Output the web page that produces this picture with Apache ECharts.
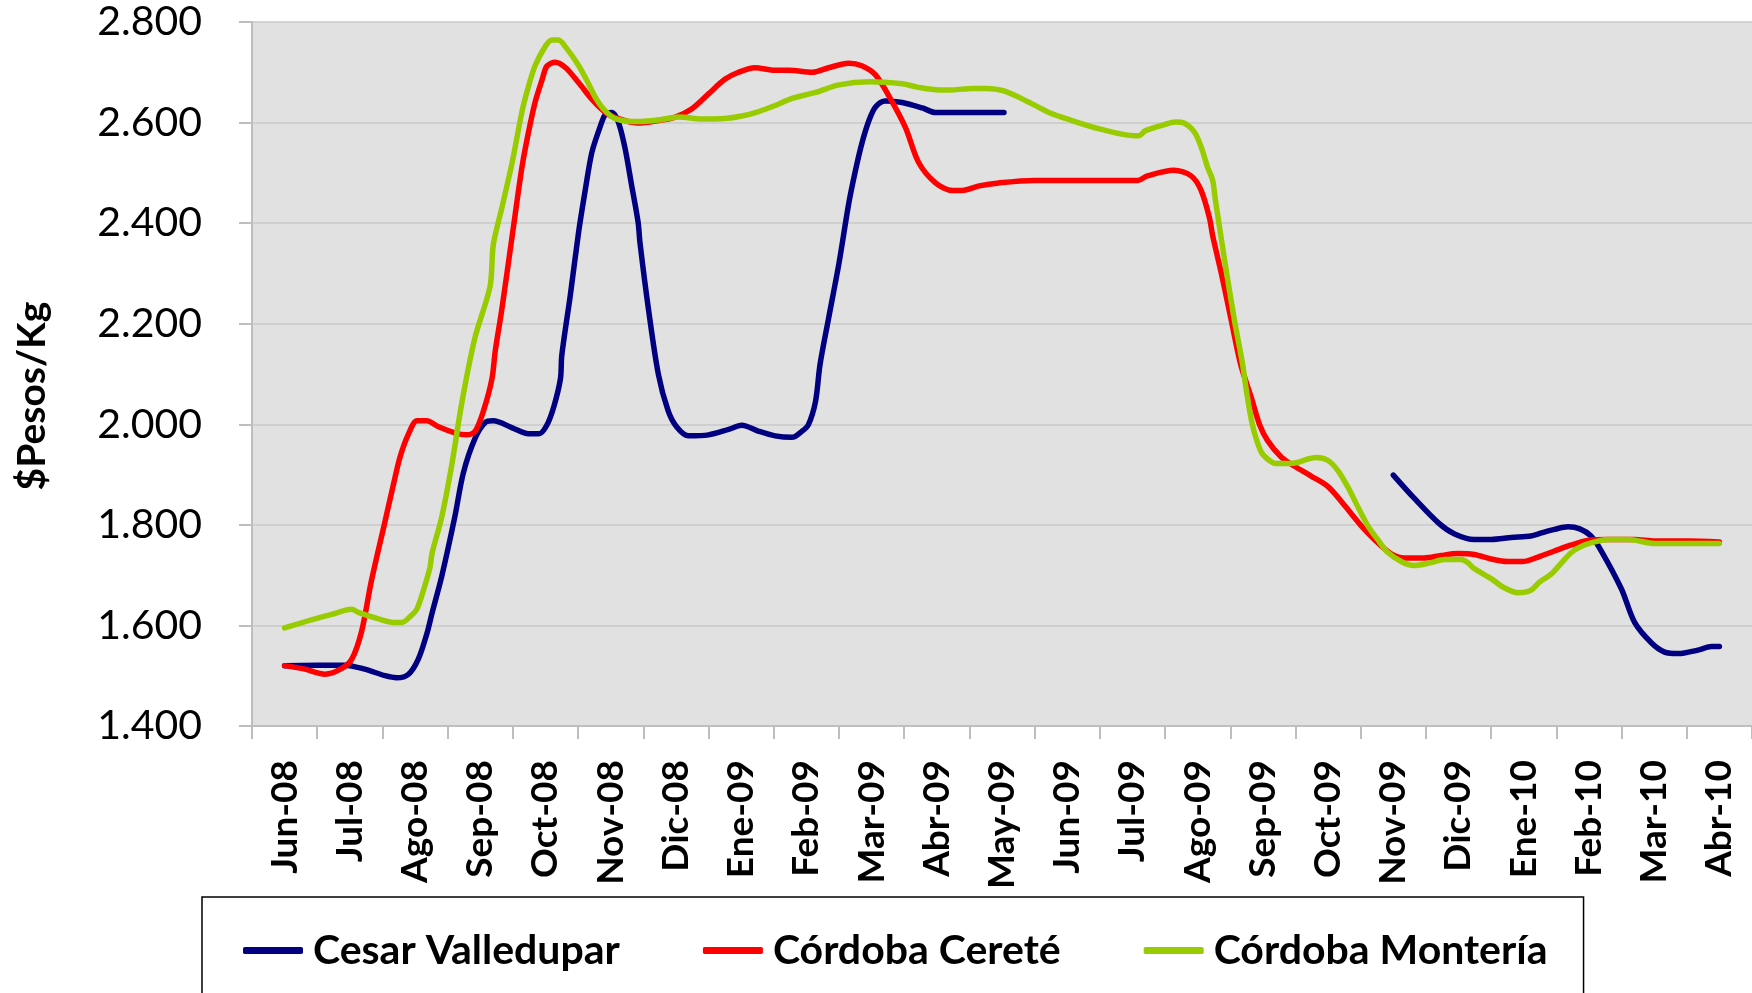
<!DOCTYPE html>
<html>
<head>
<meta charset="utf-8">
<script src="https://cdn.jsdelivr.net/npm/echarts@6/dist/echarts.min.js"></script>
<style>
html,body{margin:0;padding:0;background:#fff;}
#chart{width:1752px;height:993px;}
</style>
</head>
<body>
<div id="chart"></div>
<script>
const months = ['Jun-08','Jul-08','Ago-08','Sep-08','Oct-08','Nov-08','Dic-08','Ene-09','Feb-09','Mar-09','Abr-09','May-09','Jun-09','Jul-09','Ago-09','Sep-09','Oct-09','Nov-09','Dic-09','Ene-10','Feb-10','Mar-10','Abr-10'];
const yTicks = [1400, 1600, 1800, 2000, 2200, 2400, 2600, 2800];
const seriesNames = ['Cesar Valledupar', 'Córdoba Cereté', 'Córdoba Montería'];

// [month position (0 = Jun-08), $Pesos/Kg]
const cesarPart1 = [[0,1520],[0.92,1521],[1.23,1513],[1.54,1500],[1.72,1496],[1.9,1503],[2.05,1533],[2.18,1583],[2.26,1624],[2.41,1698],[2.61,1816],[2.74,1903],[2.92,1972],[3.08,2004],[3.2,2007],[3.49,1993],[3.74,1981],[3.9,1981],[4.02,1998],[4.13,2036],[4.23,2091],[4.25,2137],[4.38,2256],[4.51,2384],[4.61,2466],[4.71,2540],[4.82,2585],[4.92,2617],[5.02,2620],[5.12,2600],[5.22,2549],[5.32,2476],[5.42,2402],[5.45,2360],[5.58,2228],[5.73,2100],[5.88,2027],[6.01,1995],[6.19,1977],[6.5,1979],[6.81,1990],[7.01,1998],[7.27,1986],[7.52,1977],[7.78,1974],[7.93,1986],[8.03,1999],[8.14,2045],[8.21,2119],[8.34,2210],[8.5,2320],[8.65,2439],[8.75,2503],[8.85,2558],[8.96,2604],[9.06,2631],[9.21,2643],[9.47,2640],[9.78,2629],[9.98,2620],[10.5,2620],[11.03,2620]];
const cesarPart2 = [[17,1899],[17.32,1853],[17.7,1803],[17.94,1782],[18.24,1771],[18.5,1771],[18.81,1775],[19.11,1778],[19.27,1784],[19.47,1791],[19.68,1796],[19.86,1792],[20.03,1778],[20.19,1748],[20.5,1672],[20.7,1606],[20.96,1565],[21.16,1547],[21.37,1544],[21.67,1551],[21.88,1558],[22,1558]];
const cerete = [[0,1520],[0.31,1513],[0.62,1503],[0.87,1514],[1.03,1533],[1.18,1588],[1.33,1688],[1.54,1807],[1.67,1881],[1.77,1935],[1.9,1981],[2.03,2007],[2.18,2007],[2.36,1995],[2.61,1983],[2.79,1979],[2.92,1986],[3.05,2027],[3.18,2091],[3.23,2146],[3.33,2228],[3.49,2375],[3.64,2512],[3.74,2581],[3.84,2640],[3.95,2686],[4.02,2712],[4.15,2720],[4.31,2709],[4.51,2679],[4.72,2645],[4.92,2620],[5.07,2610],[5.42,2599],[5.73,2604],[5.99,2611],[6.24,2627],[6.5,2657],[6.75,2686],[6.96,2700],[7.21,2709],[7.52,2704],[7.73,2704],[8.09,2700],[8.34,2709],[8.65,2718],[8.85,2713],[9.06,2695],[9.26,2654],[9.52,2590],[9.72,2521],[9.98,2480],[10.24,2465],[10.39,2465],[10.65,2474],[10.95,2480],[11.49,2485],[12.16,2485],[13.08,2485],[13.23,2494],[13.64,2505],[13.9,2494],[14.05,2466],[14.18,2411],[14.23,2375],[14.36,2302],[14.51,2210],[14.66,2119],[14.82,2054],[14.95,1999],[15.07,1968],[15.28,1935],[15.48,1917],[15.74,1897],[16,1876],[16.25,1839],[16.51,1798],[16.71,1771],[16.96,1743],[17.17,1734],[17.47,1734],[17.73,1739],[17.99,1743],[18.24,1741],[18.5,1732],[18.75,1727],[18.98,1727],[19.22,1736],[19.47,1748],[19.73,1760],[19.98,1769],[20.29,1771],[20.7,1771],[21.01,1768],[21.52,1768],[22,1766]];
const monteria = [[0,1595],[0.41,1611],[0.72,1622],[1.03,1632],[1.13,1626],[1.44,1613],[1.67,1606],[1.8,1606],[1.92,1617],[2.03,1633],[2.15,1679],[2.23,1716],[2.26,1743],[2.41,1816],[2.56,1917],[2.72,2045],[2.92,2173],[3.15,2274],[3.2,2357],[3.33,2430],[3.49,2521],[3.64,2622],[3.72,2663],[3.84,2713],[4,2752],[4.1,2764],[4.2,2764],[4.31,2750],[4.51,2713],[4.66,2677],[4.77,2649],[4.89,2627],[5.07,2608],[5.42,2602],[5.73,2605],[6.04,2611],[6.4,2607],[6.75,2608],[7.01,2613],[7.27,2622],[7.52,2634],[7.78,2648],[8.14,2660],[8.5,2675],[8.96,2681],[9.47,2677],[9.72,2670],[10.03,2665],[10.24,2665],[10.54,2668],[10.75,2668],[11.03,2663],[11.39,2642],[11.72,2620],[12.05,2605],[12.51,2587],[13.03,2574],[13.1,2574],[13.2,2584],[13.49,2596],[13.66,2601],[13.79,2599],[13.95,2581],[14.05,2553],[14.15,2512],[14.23,2485],[14.27,2448],[14.41,2329],[14.56,2210],[14.69,2119],[14.74,2073],[14.84,1999],[14.97,1946],[15.07,1931],[15.2,1922],[15.38,1922],[15.53,1924],[15.69,1931],[15.82,1934],[16,1928],[16.15,1908],[16.3,1876],[16.46,1835],[16.61,1798],[16.76,1771],[16.91,1746],[17.12,1727],[17.32,1719],[17.58,1725],[17.78,1731],[18.04,1731],[18.14,1725],[18.24,1713],[18.5,1693],[18.7,1675],[18.91,1665],[19.11,1670],[19.24,1686],[19.42,1702],[19.57,1723],[19.73,1745],[19.88,1757],[20.09,1766],[20.29,1771],[20.6,1771],[21.01,1763],[21.52,1763],[22,1763]];

const colors = ['#000080', '#FF0000', '#99CC00'];
const FONT = 'Lato';

const cesarData = cesarPart1.concat([[14, '-']], cesarPart2);

function fmt(v) {
  const t = Math.floor(v / 1000);
  const r = String(Math.round(v % 1000)).padStart(3, '0');
  return t + '.' + r;
}

const chart = echarts.init(document.getElementById('chart'), null, {renderer: 'canvas'});
const lineSeries = (name, data, color) => ({
  name: name,
  type: 'line',
  xAxisIndex: 1,
  data: data,
  showSymbol: false,
  symbol: 'none',
  smooth: 0.3,
  connectNulls: false,
  lineStyle: {color: color, width: 5.5, cap: 'round', join: 'round'},
  itemStyle: {color: color},
  emphasis: {disabled: true},
  animation: false
});

chart.setOption({
  animation: false,
  backgroundColor: '#ffffff',
  grid: {
    left: 252, right: 0, top: 22, bottom: 267,
    show: true, backgroundColor: '#E1E1E1', borderWidth: 0
  },
  legend: {
    data: seriesNames,
    left: 202, top: 897,
    padding: [33, 36, 40, 41],
    itemGap: 83,
    itemWidth: 60, itemHeight: 7,
    icon: 'roundRect',
    borderColor: '#000000', borderWidth: 1.5,
    selectedMode: false,
    textStyle: {fontFamily: FONT, fontWeight: 'bold', fontSize: 41, lineHeight: 40, color: '#000', padding: [0, 0, 0, 5]}
  },
  xAxis: [{
    type: 'category',
    data: months,
    boundaryGap: true,
    position: 'bottom',
    axisLine: {show: true, onZero: false, lineStyle: {color: '#BEBEBE', width: 2}},
    axisTick: {show: true, length: 13, interval: 0, lineStyle: {color: '#BEBEBE', width: 2}},
    axisLabel: {interval: 0, rotate: 90, margin: 34, fontFamily: FONT, fontWeight: 'bold', fontSize: 37, color: '#000'},
    splitLine: {show: false}
  }, {
    type: 'value',
    min: -0.5, max: 22.5,
    show: false,
    axisLine: {show: false, onZero: false},
    splitLine: {show: false}
  }],
  yAxis: {
    type: 'value',
    min: yTicks[0], max: yTicks[yTicks.length - 1], interval: 200,
    name: '$Pesos/Kg',
    nameLocation: 'middle',
    nameGap: 200,
    nameRotate: 90,
    nameTextStyle: {fontFamily: FONT, fontWeight: 'bold', fontSize: 39, color: '#000', padding: [0, 44, 0, 0]},
    axisLine: {show: true, onZero: false, lineStyle: {color: '#BEBEBE', width: 2}},
    axisTick: {show: true, length: 13, lineStyle: {color: '#BEBEBE', width: 2}},
    axisLabel: {margin: 50, fontFamily: FONT, fontSize: 41, color: '#000', formatter: fmt},
    splitLine: {show: true, lineStyle: {color: '#C9C9C9', width: 1.5}}
  },
  series: [
    lineSeries(seriesNames[0], cesarData, colors[0]),
    lineSeries(seriesNames[1], cerete, colors[1]),
    lineSeries(seriesNames[2], monteria, colors[2])
  ]
});
</script>
</body>
</html>
